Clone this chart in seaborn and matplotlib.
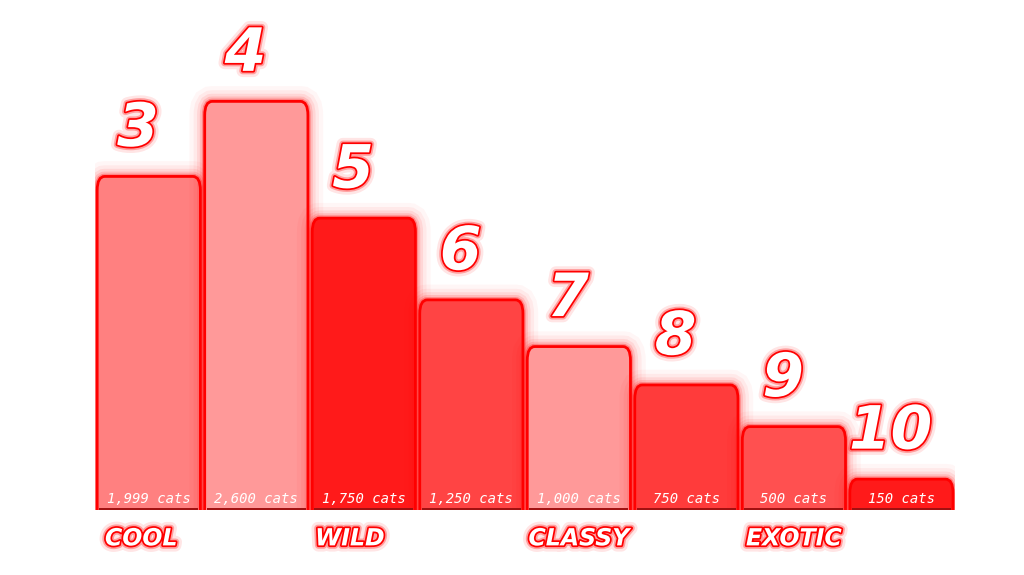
import matplotlib
matplotlib.use("Agg")
import matplotlib.pyplot as plt
import matplotlib.patheffects as pe
from matplotlib.patches import FancyBboxPatch
import seaborn as sns
import pandas as pd

# data
ranks = ["3", "4", "5", "6", "7", "8", "9", "10"]
bar_heights = [2000, 2450, 1750, 1260, 980, 750, 500, 185]
cat_labels = ["1,999 cats", "2,600 cats", "1,750 cats", "1,250 cats",
              "1,000 cats", "750 cats", "500 cats", "150 cats"]
group_labels = ["COOL", "", "WILD", "", "CLASSY", "", "EXOTIC", ""]
bar_colors = ["#ff8080", "#ff9999", "#ff1a1a", "#ff4444",
              "#ff9999", "#ff3b3b", "#ff5050", "#ff1a1a"]

df = pd.DataFrame({"rank": ranks, "height": bar_heights})

sns.set_theme(style="white")
fig = plt.figure(figsize=(10.24, 5.75), dpi=100)
ax = fig.add_axes([0.0928, 0.113, 0.84, 0.76])

sns.barplot(data=df, x="rank", y="height", hue="rank", palette=bar_colors,
            legend=False, width=0.96, ax=ax)
ax.set_ylim(0, 2620)
ax.set_xlim(-0.5, len(ranks) - 0.5)

# soft red glow for bars
glow = []
for lw, a in [(22, 0.035), (16, 0.05), (11, 0.08), (7, 0.13), (4, 0.28)]:
    glow.append(pe.Stroke(linewidth=lw, foreground="#ff0000", alpha=a))
glow.append(pe.Normal())

yr = ax.get_ylim()[1]
for i, p in enumerate(list(ax.patches)):
    x0, w, h = p.get_x(), p.get_width(), p.get_height()
    p.set_visible(False)
    box = FancyBboxPatch((x0, -200), w, h + 200,
                         boxstyle="round,pad=0,rounding_size=0.07",
                         mutation_aspect=yr / 2.2,
                         facecolor=bar_colors[i], edgecolor="#ff0000",
                         linewidth=2, zorder=2, clip_on=True)
    box.set_path_effects(glow)
    ax.add_patch(box)
    # dark base line
    ax.plot([x0 + 0.02, x0 + w - 0.02], [8, 8], color="#a01010",
            lw=1.4, zorder=3, solid_capstyle="butt")
    ax.text(x0 + w / 2, 22, cat_labels[i], ha="center", va="bottom",
            fontsize=10, color="white", family="DejaVu Sans Mono",
            style="italic", zorder=4)

text_glow = [pe.Stroke(linewidth=9, foreground="#ff0000", alpha=0.1),
             pe.Stroke(linewidth=5, foreground="#ff0000", alpha=0.3),
             pe.Stroke(linewidth=2.5, foreground="#ff0000"),
             pe.Normal()]

group_shift = [-0.07, 0, -0.13, 0, 0.0, 0, 0.0, 0]
for i, r in enumerate(ranks):
    ax.text(i - 0.1, bar_heights[i] + 105, r, ha="center", va="bottom",
            fontsize=43, fontweight="heavy", style="italic", color="white",
            family="DejaVu Sans", path_effects=text_glow, zorder=5,
            clip_on=False)
    if group_labels[i]:
        ax.text(i + group_shift[i], -170, group_labels[i], ha="center",
                va="center", fontsize=17, fontweight="heavy", style="italic",
                color="white", family="DejaVu Sans", path_effects=text_glow,
                zorder=5, clip_on=False)

ax.set_axis_off()
fig.savefig("out.png", dpi=100, facecolor="white")
